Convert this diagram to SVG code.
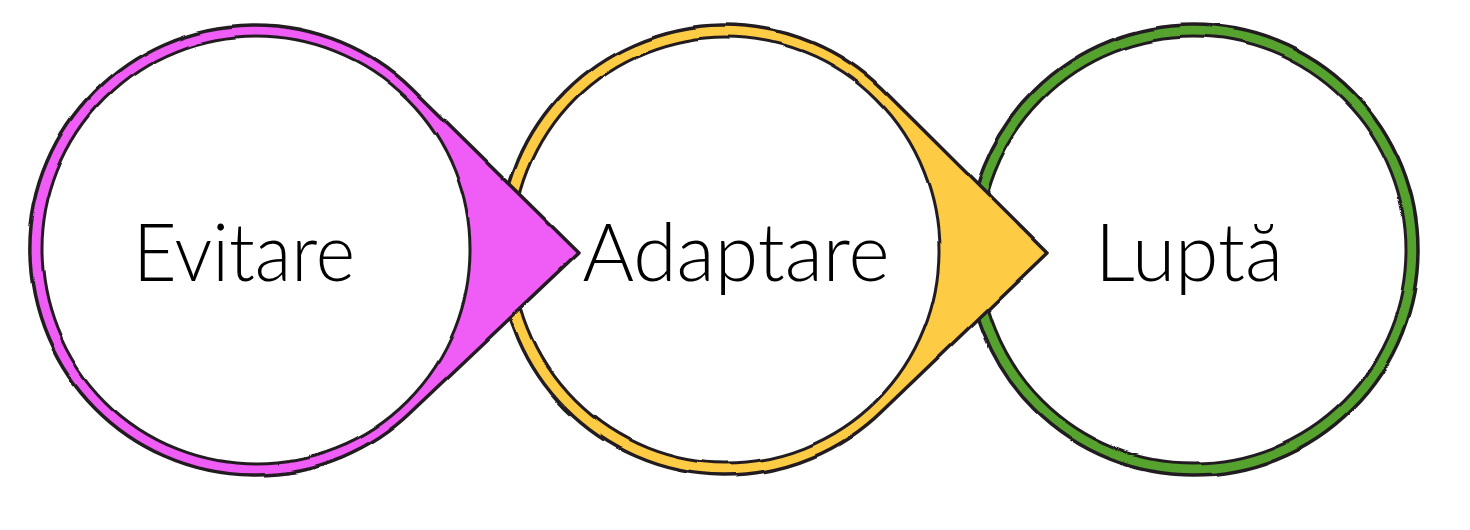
<svg xmlns="http://www.w3.org/2000/svg" width="1470" height="530" viewBox="0 0 1470 530">
  <defs>
    <filter id="wobble" x="-5%" y="-5%" width="110%" height="110%">
      <feTurbulence type="fractalNoise" baseFrequency="0.012" numOctaves="1" seed="3" result="noise"/>
      <feDisplacementMap in="SourceGraphic" in2="noise" scale="6" xChannelSelector="R" yChannelSelector="G"/>
    </filter>
  </defs>
  <style>
    .ring { stroke: #231f20; stroke-width: 3.5; stroke-linejoin: round; }
    .inner { fill: #ffffff; stroke: #231f20; stroke-width: 3; }
    .pink { fill: #f05cf6; }
    .yellow { fill: #fecb45; }
    .green { fill: #55a22e; }
    .label { font-family: Lato, "Liberation Sans", sans-serif; font-weight: 300; font-size: 80px; fill: #000000; text-anchor: middle; }
  </style>
  <rect x="0" y="0" width="1470" height="530" fill="#ffffff"/>
  <g id="connectors"></g>
  <g id="node-lupta">
    <g filter="url(#wobble)">
      <circle class="ring green" cx="1193" cy="250" r="225"/>
      <circle class="inner" cx="1193" cy="250" r="213"/>
    </g>
    <text class="label" x="1189" y="281" textLength="188" lengthAdjust="spacingAndGlyphs">Luptă</text>
  </g>
  <g id="node-adaptare">
    <g filter="url(#wobble)">
      <path class="ring yellow" d="M882.2,89.1 L1047,253 L882.2,410.9 A225,225 0 1 1 882.2,89.1 Z"/>
      <circle class="inner" cx="726" cy="250" r="213"/>
    </g>
    <text class="label" x="736" y="281" textLength="307" lengthAdjust="spacingAndGlyphs">Adaptare</text>
  </g>
  <g id="node-evitare">
    <g filter="url(#wobble)">
      <path class="ring pink" d="M411.2,88.2 L579,253 L411.2,411.8 A225,225 0 1 1 411.2,88.2 Z"/>
      <circle class="inner" cx="256" cy="250" r="214"/>
    </g>
    <text class="label" x="244" y="281" textLength="222" lengthAdjust="spacingAndGlyphs">Evitare</text>
  </g>
</svg>
